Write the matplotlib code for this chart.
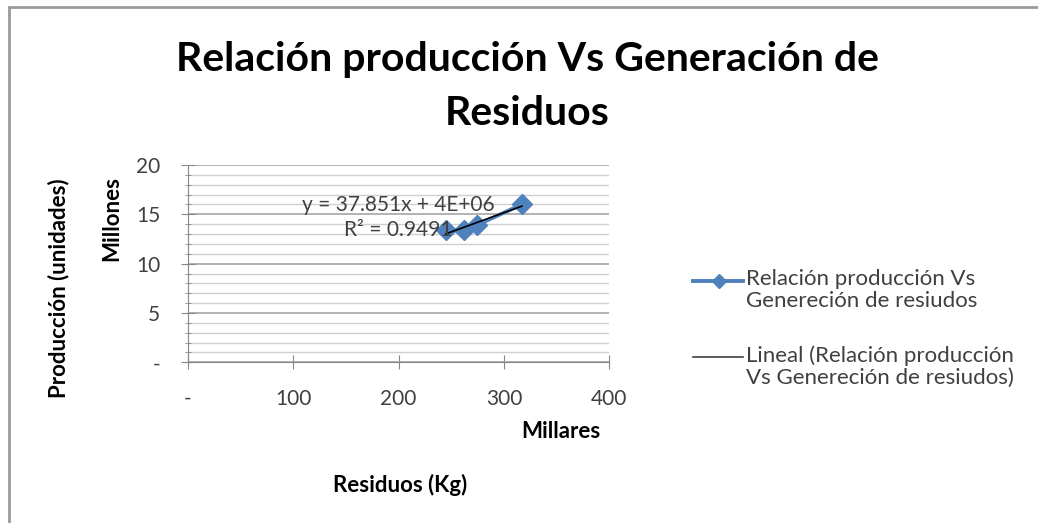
import numpy as np
import matplotlib.pyplot as plt
from matplotlib.lines import Line2D
from matplotlib.patches import Rectangle

# datos (x en miles de kg, y en millones de unidades)
residuos = [245, 262, 274, 317]
produccion = [13.4, 13.4, 13.9, 16.0]

x_ticks = [0, 100, 200, 300, 400]
x_labels = ['-', '100', '200', '300', '400']
y_ticks = [0, 5, 10, 15, 20]
y_labels = ['-', '5', '10', '15', '20']

azul = '#4F81BD'
gris_texto = '#404040'

plt.rcParams['font.family'] = ['Lato', 'DejaVu Sans']

fig = plt.figure(figsize=(10.38, 5.23), dpi=100)

# marco del gráfico
fig.patches.append(Rectangle((0.009, -0.1), 1.1, 1.087, transform=fig.transFigure,
                             fill=False, edgecolor='#9a9a9a', linewidth=2))

ax = fig.add_axes([0.1811, 0.3073, 0.4059, 0.3772])

ax.plot(residuos, produccion, color=azul, linewidth=2.8, marker='D',
        markersize=10, zorder=3)

# línea de tendencia
m, b = np.polyfit(residuos, produccion, 1)
xt = np.array([min(residuos), max(residuos)])
ax.plot(xt, m * xt + b, color='black', linewidth=1.2, zorder=4)

ax.set_xlim(0, 400)
ax.set_ylim(0, 20)
ax.set_xticks(x_ticks)
ax.set_xticklabels(x_labels)
ax.set_yticks(y_ticks)
ax.set_yticklabels(y_labels)
ax.set_yticks(np.arange(0, 21, 1), minor=True)

ax.grid(axis='y', which='major', color='#a6a6a6', linewidth=1.2)
ax.grid(axis='y', which='minor', color='#cfcfcf', linewidth=1.0)
for s in ['top', 'right']:
    ax.spines[s].set_visible(False)
for s in ['left', 'bottom']:
    ax.spines[s].set_color('#868686')
ax.tick_params(axis='both', which='major', direction='inout', length=10,
               color='#868686', labelsize=15, labelcolor=gris_texto)
ax.tick_params(axis='y', which='minor', direction='inout', length=5, color='#868686')
ax.tick_params(axis='x', pad=14)
ax.tick_params(axis='y', pad=15)

ax.text(0.50, 0.735, 'y = 37.851x + 4E+06\nR² = 0.9491', transform=ax.transAxes,
        ha='center', va='center', multialignment='center', fontsize=15,
        color=gris_texto, linespacing=1.3, zorder=5)

# títulos
fig.text(0.508, 0.835, 'Relación producción Vs Generación de\nResiduos',
         ha='center', va='center', fontsize=29.5, fontweight='bold',
         linespacing=1.55, color='black')
fig.text(0.108, 0.583, 'Millones', rotation=90, ha='center', va='center',
         fontsize=16, fontweight='bold')
fig.text(0.056, 0.449, 'Producción (unidades)', rotation=90, ha='center',
         va='center', fontsize=16, fontweight='bold')
fig.text(0.540, 0.174, 'Millares', ha='center', va='center',
         fontsize=16, fontweight='bold')
fig.text(0.385, 0.073, 'Residuos (Kg)', ha='center', va='center',
         fontsize=16, fontweight='bold')

# leyenda (muestra alineada con la primera línea del texto, como en Excel)
etiquetas = ['Relación producción Vs\nGenereción de resiudos',
             'Lineal (Relación producción\nVs Genereción de resiudos)']
y_leyenda = [281, 357]
muestras = [dict(color=azul, linewidth=2.8, marker='D', markersize=7,
                 markevery=[1]),
            dict(color='#404040', linewidth=1.2)]
for etiqueta, yp, estilo in zip(etiquetas, y_leyenda, muestras):
    yf = 1 - yp / 523
    fig.add_artist(Line2D([693 / 1038, 719 / 1038, 743 / 1038], [yf, yf, yf],
                          transform=fig.transFigure, **estilo))
    fig.text(746 / 1038, yf + 0.023, etiqueta, ha='left', va='top',
             fontsize=16, color=gris_texto, linespacing=1.12)

fig.savefig('out.png', dpi=100)
